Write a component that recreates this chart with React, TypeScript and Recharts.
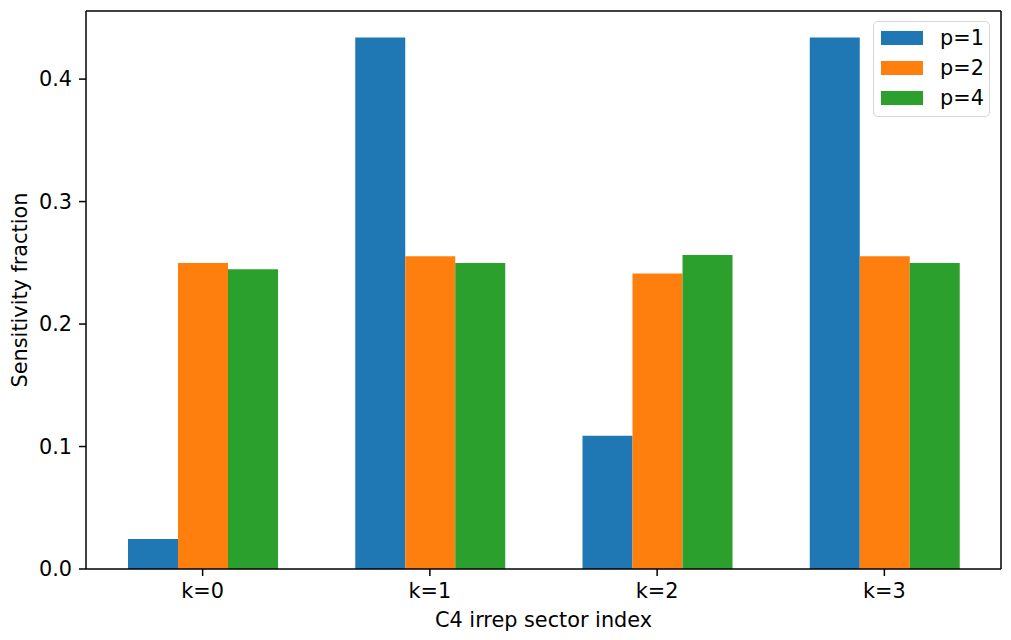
import React from 'react';
import { BarChart, Bar, XAxis, YAxis, Legend } from 'recharts';

const categories = ['k=0', 'k=1', 'k=2', 'k=3'];
const p1Values = [0.0245, 0.4339, 0.1087, 0.4339];
const p2Values = [0.2498, 0.2553, 0.2412, 0.2553];
const p4Values = [0.2447, 0.2498, 0.2564, 0.2498];
const yTicks = [0, 0.1, 0.2, 0.3, 0.4];

const seriesNames = ['p=1', 'p=2', 'p=4'];
const seriesKeys = ['p1', 'p2', 'p4'];
const seriesColors = ['#1f77b4', '#ff7f0e', '#2ca02c'];
const seriesValues = [p1Values, p2Values, p4Values];

const data = categories.map((k, i) => {
  const row: Record<string, string | number> = { k };
  seriesKeys.forEach((key, s) => {
    row[key] = seriesValues[s][i];
  });
  return row;
});

const FONT = '"DejaVu Sans", sans-serif';
const FS = 20.8;
const INK = '#000';

const LegendBox = (props: any) => {
  const payload = props.payload || [];
  return (
    <div
      style={{
        position: 'relative',
        width: 117,
        height: 96,
        boxSizing: 'border-box',
        border: '1.5px solid #d6d6d6',
        borderRadius: 5,
        background: 'rgba(255,255,255,0.8)',
        fontFamily: FONT,
        fontSize: FS,
        color: INK,
      }}
    >
      {payload.map((entry: any, i: number) => (
        <div key={entry.value} style={{ position: 'absolute', left: 0, top: 16 + i * 30 - 15, height: 30, width: '100%' }}>
          <div
            style={{
              position: 'absolute',
              left: 7,
              top: 8,
              width: 42,
              height: 14,
              background: entry.color,
            }}
          />
          <div style={{ position: 'absolute', left: 66, top: 0, height: 30, lineHeight: '30px', whiteSpace: 'nowrap' }}>
            {entry.value}
          </div>
        </div>
      ))}
    </div>
  );
};

export default function App() {
  return (
    <div style={{ position: 'absolute', left: 0, top: 0, width: 1011, height: 640, background: '#fff' }}>
      <BarChart
        width={1011}
        height={640}
        data={data}
        margin={{ top: 10, right: 9, bottom: 0, left: 0 }}
        barGap={0}
        barSize={50}
      >
        <XAxis
          dataKey="k"
          xAxisId={0}
          height={71}
          padding={{ left: 3, right: 3 }}
          stroke={INK}
          strokeWidth={1.5}
          tickSize={7}
          tickMargin={7}
          tick={{ fill: INK, fontFamily: FONT, fontSize: FS }}
          tickLine={{ stroke: INK, strokeWidth: 1.5 }}
          axisLine={{ stroke: INK, strokeWidth: 1.5 }}
          label={{
            content: (p: any) => {
              const vb = p.viewBox || { x: 86, width: 915 };
              return (
                <text
                  x={vb.x + vb.width / 2}
                  y={627}
                  textAnchor="middle"
                  fontFamily={FONT}
                  fontSize={FS}
                  fill={INK}
                >
                  C4 irrep sector index
                </text>
              );
            },
          }}
        />
        <XAxis
          dataKey="k"
          xAxisId="top"
          orientation="top"
          height={1}
          padding={{ left: 3, right: 3 }}
          tick={false}
          tickLine={false}
          stroke={INK}
          axisLine={{ stroke: INK, strokeWidth: 1.5 }}
        />
        <YAxis
          yAxisId={0}
          width={86}
          domain={[0, 0.4556]}
          ticks={yTicks}
          allowDataOverflow
          tickFormatter={(v: number) => v.toFixed(1)}
          tickSize={7}
          tickMargin={7}
          tick={{ fill: INK, fontFamily: FONT, fontSize: FS }}
          tickLine={{ stroke: INK, strokeWidth: 1.5 }}
          axisLine={{ stroke: INK, strokeWidth: 1.5 }}
          label={{
            content: (p: any) => {
              const vb = p.viewBox || { y: 11, height: 558 };
              const cy = vb.y + vb.height / 2;
              return (
                <text
                  x={27}
                  y={cy}
                  transform={`rotate(-90 27 ${cy})`}
                  textAnchor="middle"
                  fontFamily={FONT}
                  fontSize={FS}
                  fill={INK}
                >
                  Sensitivity fraction
                </text>
              );
            },
          }}
        />
        <YAxis
          yAxisId="right"
          orientation="right"
          width={1}
          domain={[0, 0.4556]}
          tick={false}
          tickLine={false}
          stroke={INK}
          axisLine={{ stroke: INK, strokeWidth: 1.5 }}
        />
        <Legend
          layout="vertical"
          align="center"
          verticalAlign="middle"
          wrapperStyle={{ left: 873, top: 21, width: 117, height: 96 }}
          content={<LegendBox />}
        />
        {seriesKeys.map((key, s) => (
          <Bar
            key={key}
            dataKey={key}
            name={seriesNames[s]}
            fill={seriesColors[s]}
            xAxisId={0}
            yAxisId={0}
            isAnimationActive={false}
          />
        ))}
      </BarChart>
    </div>
  );
}
